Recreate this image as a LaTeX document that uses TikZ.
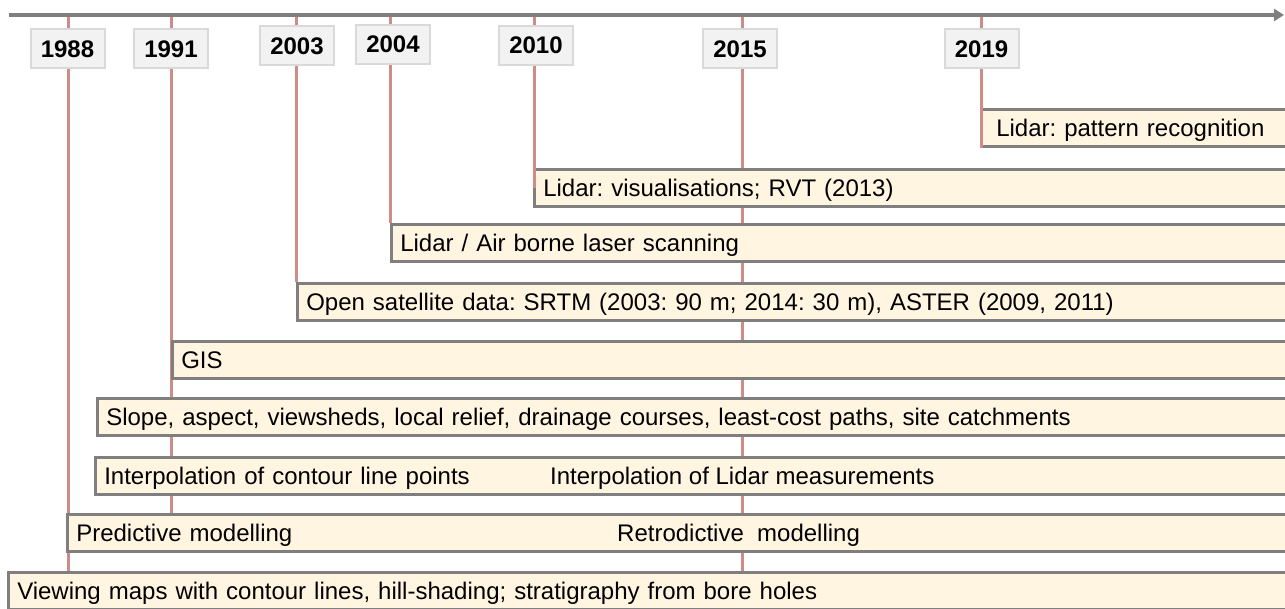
\documentclass[tikz,border=0pt]{standalone}
\usepackage{fontspec}
\setmainfont{Liberation Sans}
\usetikzlibrary{arrows.meta}
\definecolor{axisgray}{RGB}{127,127,127}
\definecolor{tickred}{RGB}{207,140,135}
\definecolor{barfill}{RGB}{255,245,225}
\definecolor{barline}{RGB}{127,127,127}
\definecolor{yearfill}{RGB}{242,242,242}
\definecolor{yearline}{RGB}{217,217,217}
\pgfdeclarelayer{background}
\pgfsetlayers{background,main}
\newcommand{\labelfont}{\fontsize{24}{28}\selectfont\frenchspacing}
\begin{document}
\begin{tikzpicture}[x=1pt,y=-1pt,
  axisline/.style={draw=axisgray,line width=3.5pt,-{Triangle[length=10pt,width=12pt]}},
  tick/.style={draw=tickred,line width=3pt},
  yearbox/.style={draw=yearline,fill=yearfill,line width=2pt,minimum width=74pt,
    minimum height=39pt,inner sep=0pt,text height=17pt,text depth=0pt,
    font=\labelfont\bfseries},
  bar/.style={draw=barline,fill=barfill,line width=2.5pt,anchor=north west,
    minimum height=37pt,text width=1500pt,align=left,inner xsep=9pt,inner ysep=0pt,
    text height=17pt,text depth=0pt,font=\labelfont},
  tag/.style={inner sep=0pt,anchor=west,text height=17pt,text depth=0pt,font=\labelfont}]
\useasboundingbox (0,0) rectangle (1285,608);
\clip (0,0) rectangle (1285,608);

% time axis
\coordinate (axL) at (9,15);
\coordinate (axR) at (1284,15);
\coordinate (t1988) at (68,15);
\coordinate (t1991) at (171,15);
\coordinate (t2003) at (296,15);
\coordinate (t2004) at (390,15);
\coordinate (t2010) at (534,15);
\coordinate (t2015) at (742,15);
\coordinate (t2019) at (981,15);

% bars, newest on top
\node[bar,inner xsep=15pt] (b1) at (980,108) {Lidar: pattern recognition};
\node[bar] (b2) at (533,168) {Lidar: visualisations; RVT (2013)};
\node[bar] (b3) at (390,223) {Lidar / Air borne laser scanning};
\node[bar] (b4) at (296,282) {Open satellite data: SRTM (2003: 90 m; 2014: 30 m), ASTER (2009, 2011)};
\node[bar] (b5) at (171,340) {GIS};
\node[bar] (b6) at (96,397) {Slope, aspect, viewsheds, local relief, drainage courses, least-cost paths, site catchments};
\node[bar] (b7) at (94,456) {Interpolation of contour line points};
\node[bar] (b8) at (66,513) {Predictive modelling};
\node[bar] (b9) at (7,571) {Viewing maps with contour lines, hill-shading; stratigraphy from bore holes};

\node[tag] (b7b) at (550,0 |- b7.center) {Interpolation of Lidar measurements};
\node[tag] (b8b) at (617,0 |- b8.center) {Retrodictive\ \ modelling};

% year ticks behind bars
\begin{pgfonlayer}{background}
\draw[tick] (t1988) -- (t1988 |- b9.north);
\draw[tick] (t1991) -- (t1991 |- b8.north);
\draw[tick] (t2003) -- (t2003 |- b4.north);
\draw[tick] (t2004) -- (t2004 |- b3.north);
\draw[tick] (t2015) -- (t2015 |- b9.north);
\end{pgfonlayer}
\draw[tick] (t2010) -- (t2010 |- b2.west);
\draw[tick] (t2019) -- (t2019 |- b1.south);

\draw[axisline] (axL) -- (axR);

% year labels
\node[yearbox] (y1988) at (67.5,48.5) {1988};
\node[yearbox] (y1991) at (171,48.5) {1991};
\node[yearbox] (y2003) at (297,45.5) {2003};
\node[yearbox] (y2004) at (393,44) {2004};
\node[yearbox] (y2010) at (536,45) {2010};
\node[yearbox] (y2015) at (740,48.5) {2015};
\node[yearbox] (y2019) at (981.5,48.5) {2019};
\end{tikzpicture}
\end{document}
